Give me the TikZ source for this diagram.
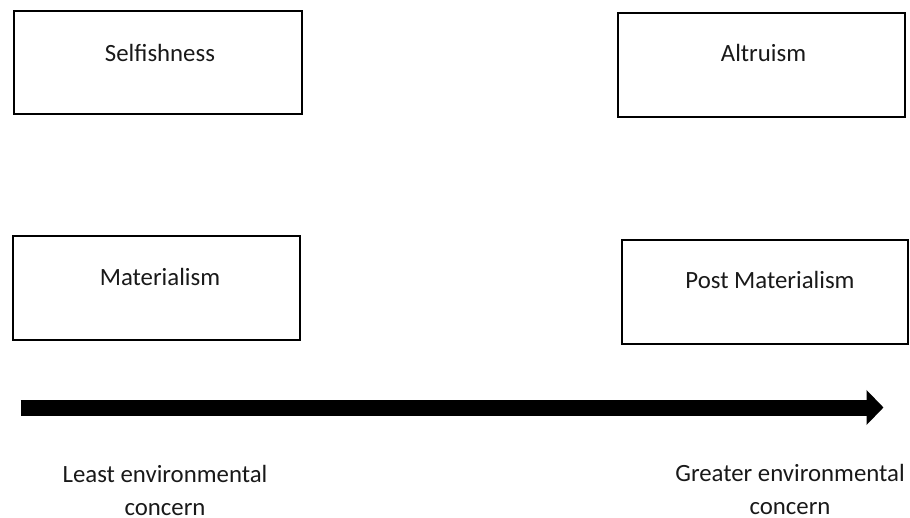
\documentclass[tikz,border=0pt]{standalone}
\usepackage{fontspec}
\setmainfont{Carlito}
\usetikzlibrary{arrows.meta}
\begin{document}
\begin{tikzpicture}[x=1pt,y=-1pt,
  box/.style={draw=black,line width=1.6pt,rectangle,inner sep=0pt,anchor=north west},
  lbl/.style={font=\fontsize{24.8}{34}\selectfont,anchor=base,inner sep=0pt,text=black!90},
  captext/.style={font=\fontsize{24.8}{33}\selectfont,align=center,anchor=base,inner sep=0pt,text=black!90}]
\useasboundingbox (0,0) rectangle (910,518);
\node[box,minimum width=288pt,minimum height=103pt] (self) at (13,10) {};
\node[box,minimum width=287pt,minimum height=104pt] (altr) at (617,12) {};
\node[box,minimum width=287pt,minimum height=104pt] (mat) at (12,235) {};
\node[box,minimum width=286pt,minimum height=104pt] (post) at (621,239) {};
\node[lbl] (selfT) at (160,62) {Selfishness};
\node[lbl] (altrT) at (763.5,62) {Altruism};
\node[lbl] (matT) at (160,286) {Materialism};
\node[lbl] (postT) at (770,289) {Post Materialism};
\coordinate (a0) at (20.5,407.5);
\coordinate (a1) at (883.5,407.5);
\draw[line width=16pt,-{Triangle[length=17pt,width=34pt]}] (a0) -- (a1);
\node[captext] (least) at (165,515) {Least environmental\\concern};
\node[captext] (great) at (790,514) {Greater environmental\\concern};
\end{tikzpicture}
\end{document}
